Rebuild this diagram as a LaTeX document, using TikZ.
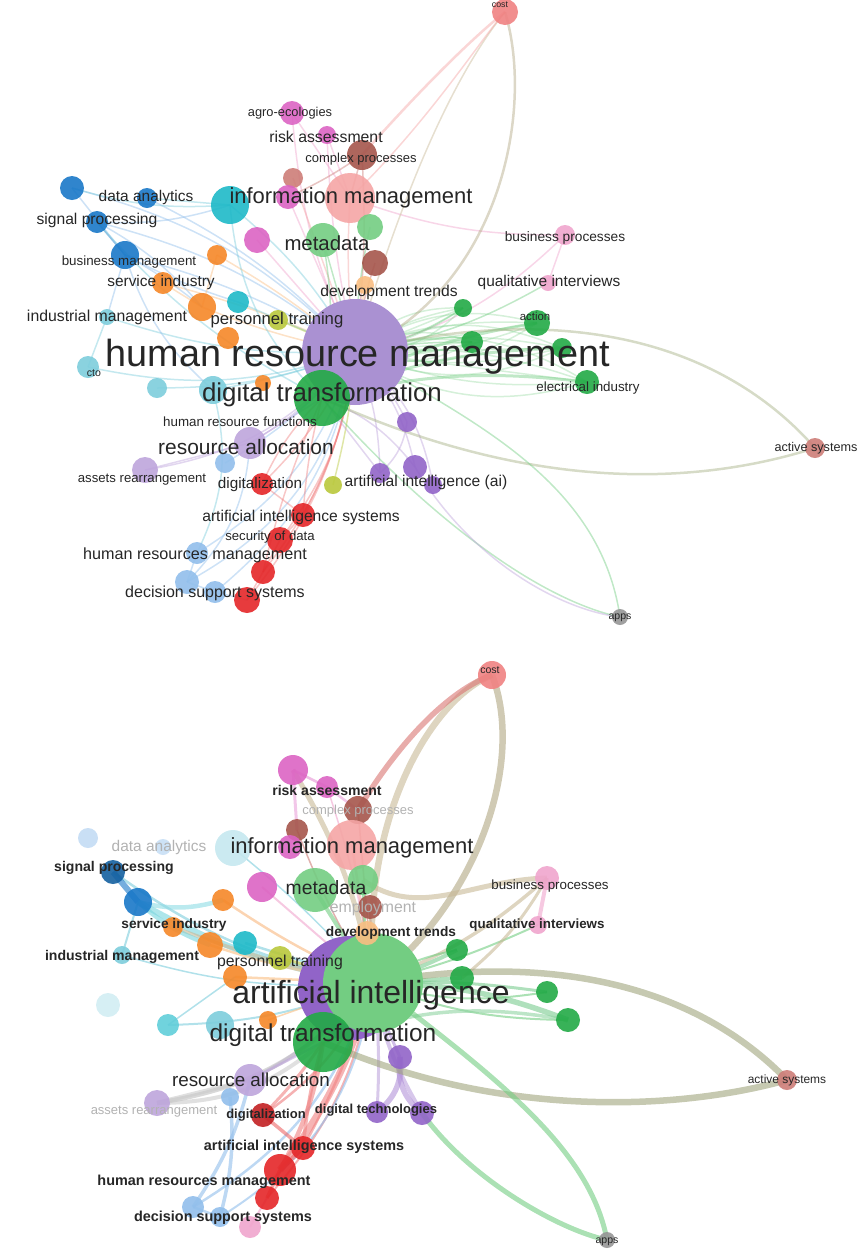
\documentclass[tikz,border=0pt]{standalone}
\usepackage{fontspec}
\setmainfont{Liberation Sans}

\definecolor{vred}{RGB}{228,38,40}
\definecolor{vgreen}{RGB}{34,170,70}
\definecolor{vlgreen}{RGB}{115,205,130}
\definecolor{vblue}{RGB}{25,120,200}
\definecolor{vcyan}{RGB}{30,185,200}
\definecolor{vlcyan}{RGB}{125,205,220}
\definecolor{vorange}{RGB}{245,135,40}
\definecolor{vlorange}{RGB}{250,190,130}
\definecolor{vpurple}{RGB}{145,100,200}
\definecolor{vhub}{RGB}{170,145,210}
\definecolor{vlav}{RGB}{190,165,220}
\definecolor{vpink}{RGB}{220,100,195}
\definecolor{vlpink}{RGB}{240,165,205}
\definecolor{vbrown}{RGB}{165,85,75}
\definecolor{vsalmon}{RGB}{240,130,130}
\definecolor{vlsalmon}{RGB}{245,165,165}
\definecolor{vyellow}{RGB}{185,200,60}
\definecolor{vlblue}{RGB}{145,190,235}
\definecolor{vgray}{RGB}{150,150,150}
\definecolor{vrosy}{RGB}{205,125,120}
\definecolor{vbeige}{RGB}{200,185,150}

\pgfdeclarelayer{links}
\pgfsetlayers{links,main}

\tikzset{
  dot/.style={circle, inner sep=0pt, draw=none, fill=#1, fill opacity=.9},
  hub/.style={dot=#1, fill opacity=1},
  lab/.style={font=\fontsize{#1}{#1}\selectfont, text=black!85, inner sep=0pt},
  labb/.style={lab=#1, font=\bfseries\fontsize{#1}{#1}\selectfont},
  labf/.style={lab=#1, text=black!30},
  lnk/.style={draw=#1, line width=.3mm, draw opacity=.45},
  blnk/.style={draw=#1, draw opacity=.6},
}

\begin{document}
\begin{tikzpicture}[x=.2mm, y=-.2mm]
\useasboundingbox (0,0) rectangle (862,1251);

% upper map: human resource management
\node[hub=vhub, minimum size=21.2mm] (t25) at (355,352) {};
\foreach \nm/\x/\y/\rad/\col in {
  t29/322/398/28/vgreen,
  t01/505/12/13/vsalmon, t02/292/113/12/vpink, t03/327/135/9/vpink,
  t04/362/155/15/vbrown, t05/293/178/10/vrosy, t08/350/198/25/vlsalmon,
  t07/288/197/12/vpink, t06/230/205/19/vcyan, t09/72/188/12/vblue,
  t10/147/198/10/vblue, t11/97/222/11/vblue, t12/257/240/13/vpink,
  t13/323/240/17/vlgreen, t14/370/227/13/vlgreen, t15/125/255/14/vblue,
  t16/163/283/11/vorange, t17/217/255/10/vorange, t18/375/263/13/vbrown,
  t19/365/285/9/vlorange, t20/202/307/14/vorange, t21/238/302/11/vcyan,
  t22/107/317/8/vlcyan, t23/278/320/10/vyellow, t24/228/338/11/vorange,
  t26/88/367/11/vlcyan, t27/157/388/10/vlcyan, t28/263/383/8/vorange,
  t30/213/390/14/vlcyan, t31/250/443/16/vlav, t32/225/463/10/vlblue,
  t33/407/422/10/vpurple, t34/415/467/12/vpurple, t35/433/485/9/vpurple,
  t36/380/473/10/vpurple, t37/145/470/13/vlav, t38/262/484/11/vred,
  t39/333/485/9/vyellow, t40/303/515/12/vred, t41/280/540/13/vred,
  t42/197/553/11/vlblue, t43/263/572/12/vred, t44/187/582/12/vlblue,
  t45/215/592/11/vlblue, t46/247/600/13/vred, t47/548/283/8/vlpink,
  t48/565/235/10/vlpink, t49/463/308/9/vgreen, t50/537/323/13/vgreen,
  t51/472/342/11/vgreen, t52/562/348/10/vgreen, t53/587/382/12/vgreen,
  t54/815/448/10/vrosy, t55/620/617/8/vgray}{
  \pgfmathsetmacro\dia{.4*\rad}
  \node[dot=\col, minimum size=\dia mm] (\nm) at (\x,\y) {};
}

% lower map: artificial intelligence
\node[hub=vpurple, minimum size=20.8mm] (b25) at (350,988) {};
\node[hub=vlgreen, minimum size=20mm] (b26) at (373,983) {};
\foreach \nm/\x/\y/\rad/\col in {
  b31/323/1042/30/vgreen,
  b01/492/675/14/vsalmon, b02/293/770/15/vpink, b03/327/787/11/vpink,
  b04/358/810/14/vbrown, b05/297/830/11/vbrown, b06/233/848/18/vlcyan!45,
  b08/352/845/25/vlsalmon, b07/290/847/12/vpink, b09/88/838/10/vlblue!55,
  b10/163/847/8/vlblue!50, b11/113/872/12/vblue!80!black, b12/138/902/14/vblue,
  b13/223/900/11/vorange, b14/262/887/15/vpink, b15/315/890/22/vlgreen,
  b16/363/880/15/vlgreen, b17/370/907/12/vbrown, b18/173/927/10/vorange,
  b19/367/933/12/vlorange, b20/210/945/13/vorange, b21/245/943/12/vcyan,
  b22/122/955/9/vlcyan, b23/280/958/12/vyellow, b24/235/977/12/vorange,
  b27/108/1005/12/vlcyan!35, b28/168/1025/11/vcyan!70, b29/268/1020/9/vorange,
  b30/220/1025/14/vlcyan, b32/400/1057/12/vpurple, b33/250/1080/16/vlav,
  b34/157/1103/13/vlav, b35/230/1097/9/vlblue, b36/263/1115/12/vred!85!black,
  b37/377/1112/11/vpurple, b38/422/1113/12/vpurple, b39/303/1148/12/vred,
  b40/280/1170/16/vred, b41/267/1198/12/vred, b42/193/1207/11/vlblue,
  b43/220/1217/10/vlblue, b44/250/1227/11/vlpink, b45/547/878/12/vlpink,
  b46/538/925/9/vlpink, b47/457/950/11/vgreen, b48/462/978/12/vgreen,
  b49/547/992/11/vgreen, b50/568/1020/12/vgreen, b51/787/1080/10/vrosy,
  b52/607/1240/8/vgray}{
  \pgfmathsetmacro\dia{.4*\rad}
  \node[dot=\col, minimum size=\dia mm] (\nm) at (\x,\y) {};
}

\begin{pgfonlayer}{links}
% upper links
\foreach \a/\b/\col/\bend in {
  t25/t02/vlpink/10, t25/t03/vlpink/5, t25/t04/vrosy/-5, t25/t05/vlsalmon/0,
  t25/t06/vlcyan/-10, t25/t07/vlpink/0, t25/t08/vlsalmon/5, t25/t09/vlblue/-15,
  t25/t10/vlblue/-10, t25/t11/vlblue/-12, t25/t12/vlpink/0, t25/t13/vlgreen/0,
  t25/t14/vlgreen/5, t25/t15/vlblue/-8, t25/t16/vlorange/-5, t25/t17/vlorange/-5,
  t25/t18/vrosy/5, t25/t19/vlorange/0, t25/t20/vlorange/5, t25/t21/vlcyan/0,
  t25/t22/vlcyan/10, t25/t23/vyellow/0, t25/t26/vlcyan/15, t25/t27/vlcyan/10,
  t25/t30/vlcyan/5, t25/t31/vlav/10, t25/t32/vlblue/10, t25/t33/vlav/10,
  t25/t34/vlav/15, t25/t35/vlav/20, t25/t36/vlav/10, t25/t37/vlav/20,
  t25/t38/vsalmon/10, t25/t39/vyellow/5, t25/t40/vsalmon/10, t25/t41/vsalmon/15,
  t25/t42/vlblue/20, t25/t43/vsalmon/15, t25/t44/vlblue/25, t25/t45/vlblue/20,
  t25/t46/vsalmon/15, t25/t47/vlgreen/-10, t25/t48/vlpink/-15, t25/t49/vlgreen/-10,
  t25/t51/vlgreen/5, t29/t38/vsalmon/-10, t29/t40/vsalmon/-5, t29/t43/vsalmon/-5,
  t29/t31/vlav/0, t29/t13/vlgreen/-10, t15/t11/vblue/0, t15/t21/vlblue/-5,
  t11/t06/vlblue/-10, t09/t06/vlcyan/-10, t10/t06/vlcyan/0, t15/t20/vlblue/5,
  t16/t20/vlorange/0, t17/t20/vlorange/0, t02/t08/vlpink/0, t03/t08/vlpink/0,
  t04/t08/vrosy/0, t04/t07/vrosy/5, t48/t47/vlpink/0, t48/t08/vlpink/10,
  t37/t31/vlav/0, t44/t42/vlblue/0, t44/t31/vlblue/-20, t42/t30/vlcyan/-20,
  t22/t15/vlblue/0, t26/t22/vlcyan/0, t38/t40/vsalmon/0, t40/t41/vsalmon/0,
  t41/t43/vsalmon/0, t43/t46/vsalmon/0, t46/t45/vlblue/0, t45/t44/vlblue/0,
  t11/t20/vlblue/10, t09/t15/vlblue/0, t15/t30/vlblue/-15, t11/t29/vlcyan/-10,
  t06/t29/vlcyan/-20, t33/t36/vlav/20, t34/t29/vlav/-15, t36/t29/vlav/0}
  \draw[lnk=\col] (\a.center) to[bend left=\bend] (\b.center);
% green bundle to the right
\foreach \b in {t49,t50,t51,t52,t53}
  \foreach \bend in {-24,-12,0,12,24}
    \draw[lnk=vlgreen, draw opacity=.3] (t25.center) to[bend left=\bend] (\b.center);
\foreach \b in {t50,t52,t53}
  \draw[lnk=vlgreen, line width=.6mm] (t29.center) to[bend left=10] (\b.center);
\draw[lnk=vlgreen!50!vsalmon, line width=.5mm] (t25.center) .. controls (500,290) and (535,110) .. (t01.center);
\draw[lnk=vbeige] (t25.center) .. controls (400,200) and (450,80) .. (t01.center);
\draw[lnk=vlsalmon, line width=.5mm] (t04.center) .. controls (420,90) and (470,40) .. (t01.center);
\draw[lnk=vlsalmon] (t08.center) .. controls (430,120) and (480,40) .. (t01.center);
\draw[lnk=vlgreen!60!vsalmon, line width=.5mm] (t25.center) .. controls (560,300) and (720,340) .. (t54.center);
\draw[lnk=vlgreen!60!vsalmon, line width=.5mm] (t29.center) .. controls (480,470) and (650,500) .. (t54.center);
\draw[lnk=vlgreen] (t25.center) .. controls (470,420) and (600,480) .. (t55.center);
\draw[lnk=vlgreen] (t29.center) .. controls (430,520) and (540,600) .. (t55.center);
\draw[lnk=vlav] (t34.center) .. controls (470,560) and (560,610) .. (t55.center);

% lower links
\foreach \a/\b/\col/\bend/\w in {
  b26/b02/vbeige/-10/1, b26/b03/vlpink/-5/.3, b26/b04/vrosy/0/.3,
  b26/b05/vrosy/5/.3, b26/b06/vlcyan/-5/.3, b26/b08/vlsalmon/0/.5,
  b26/b12/vcyan!60/10/1.2, b26/b11/vlcyan/12/.5, b26/b13/vorange!60/5/.5,
  b26/b14/vlpink/0/.4, b26/b15/vlgreen/0/.8, b26/b16/vlgreen/5/.6,
  b26/b17/vrosy/0/.4, b26/b18/vbeige/5/.7, b26/b19/vlorange/0/.5,
  b26/b20/vlorange/5/.5, b26/b21/vlcyan/0/.5, b26/b22/vlcyan/10/.3,
  b26/b23/vyellow/0/.6, b26/b24/vlorange/0/.5, b26/b28/vlcyan/10/.4,
  b26/b33/vlav/10/.6, b26/b34/vgray!60/20/.9, b26/b36/vred!60/15/.5,
  b26/b39/vsalmon/5/.5, b26/b40/vsalmon/10/1.4, b26/b41/vsalmon/15/.4,
  b26/b42/vlblue/20/.5, b26/b43/vlblue/25/.4, b26/b32/vpurple!70/-5/.6,
  b26/b37/vlav/5/.6, b26/b38/vpurple!60/-10/.8, b26/b45/vbeige/-10/.7,
  b26/b46/vlgreen/-5/.4, b26/b47/vgreen!60/-5/.8, b26/b48/vgreen!60/0/.8,
  b26/b49/vgreen!60/5/.6, b26/b50/vgreen!60/10/1.1, b26/b50/vlgreen/-10/.4,
  b26/b49/vlgreen/-12/.4, b26/b47/vlgreen/10/.4,
  b31/b50/vgreen!50/15/.7, b31/b39/vsalmon/-5/.7, b31/b33/vlav/0/.5,
  b11/b12/vblue/0/1.2, b12/b20/vcyan!60/-10/.9, b12/b13/vcyan!50/-15/.9,
  b22/b12/vlcyan/0/.4, b34/b33/vgray!50/0/.9, b34/b31/vgray!50/-20/.8,
  b42/b33/vlblue/-10/.7, b43/b35/vlblue/-10/.7, b37/b32/vpurple!70/-30/1.1,
  b38/b32/vpurple!70/30/1.1, b36/b39/vred!70/0/.7, b39/b40/vred!70/0/.9,
  b40/b41/vred!70/0/.7, b41/b44/vlpink/0/.4, b42/b43/vlblue/0/.5,
  b02/b03/vpink!70/0/.5, b03/b04/vpink!60/0/.5, b02/b05/vpink!60/0/.6,
  b45/b46/vlpink/0/.8, b45/b48/vbeige/10/.6, b28/b24/vlcyan/0/.3,
  b29/b26/vlorange/0/.3, b40/b31/vsalmon/-10/.9, b36/b31/vsalmon/-5/.6}
  \draw[blnk=\col, line width=\w mm] (\a.center) to[bend left=\bend] (\b.center);
\draw[blnk=vbeige, line width=1.3mm] (b26.center) .. controls (360,820) and (430,700) .. (b01.center);
\draw[blnk=vsalmon!70!vbrown, line width=1.1mm] (b04.center) .. controls (400,740) and (450,690) .. (b01.center);
\draw[blnk=vlgreen!50!vsalmon, line width=1.3mm] (b26.center) .. controls (480,900) and (525,760) .. (b01.center);
\draw[blnk=vlgreen!50!vrosy, line width=1.3mm] (b26.center) .. controls (560,950) and (700,990) .. (b51.center);
\draw[blnk=vlgreen!50!vrosy, line width=1.3mm] (b31.center) .. controls (500,1120) and (680,1110) .. (b51.center);
\draw[blnk=vlgreen, line width=1mm] (b26.center) .. controls (500,1080) and (590,1150) .. (b52.center);
\draw[blnk=vlgreen, line width=1mm] (b38.center) .. controls (470,1180) and (560,1230) .. (b52.center);
\draw[blnk=vbeige, line width=1mm] (b45.center) .. controls (470,880) and (420,920) .. (b16.center);
\end{pgfonlayer}

% upper labels
\foreach \x/\y/\s/\t [count=\i] in {
  500/5/5/cost, 290/113/7.3/agro-ecologies, 326/137/9/risk assessment,
  361/159/7.4/complex processes, 146/197/8.8/data analytics,
  97/220/8.9/signal processing, 351/198/12.5/information management,
  327/243/11.6/metadata, 129/262/7.6/business management,
  161/282/8.8/service industry, 389/292/8.9/development trends,
  107/317/9/industrial management, 277/320/9.5/personnel training,
  358/357/21.5/human resource management, 94/373/6/cto,
  322/395/14.7/digital transformation, 240/422/7.6/human resource functions,
  246/447/11.9/resource allocation, 142/480/7.5/assets rearrangement,
  260/485/8.7/digitalization, 426/482/8.9/artificial intelligence (ai),
  301/517/8.9/artificial intelligence systems, 270/537/7.5/security of data,
  195/555/9.2/human resources management, 215/593/9.1/decision support systems,
  565/238/7.8/business processes, 549/282/8.8/qualitative interviews,
  535/316/6.5/action, 588/388/7.6/electrical industry,
  816/448/7.2/active systems, 620/618/6/apps}
  \node[lab=\s] (tl\i) at (\x,\y) {\t};

% lower labels
\foreach \x/\y/\s/\t [count=\i] in {
  490/670/6/cost, 352/848/12.5/information management, 326/888/11/metadata,
  280/962/9/personnel training, 371/995/18.2/artificial intelligence,
  323/1035/13.9/digital transformation, 251/1080/10.7/resource allocation,
  550/886/7.6/business processes, 787/1080/6.8/active systems, 607/1242/6/apps}
  \node[lab=\s] (bl\i) at (\x,\y) {\t};
\foreach \x/\y/\s/\t [count=\i] in {
  327/790/8/risk assessment, 114/868/8/signal processing,
  174/925/7.8/service industry, 391/933/7.8/development trends,
  122/957/8/industrial management, 266/1115/7.4/digitalization,
  376/1110/7.4/digital technologies, 304/1147/8.2/artificial intelligence systems,
  204/1182/8.2/human resources management, 223/1218/8.2/decision support systems,
  537/925/7.6/qualitative interviews}
  \node[labb=\s] (bb\i) at (\x,\y) {\t};
\foreach \x/\y/\s/\t [count=\i] in {
  358/811/7.4/complex processes, 159/847/8.8/data analytics,
  373/908/9/employment, 154/1112/7.4/assets rearrangement}
  \node[labf=\s] (bf\i) at (\x,\y) {\t};
\end{tikzpicture}
\end{document}
